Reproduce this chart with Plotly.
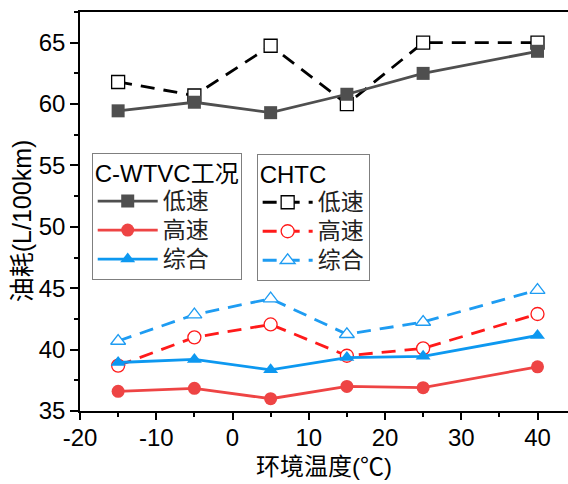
import plotly.graph_objects as go

temps = [-15, -5, 5, 15, 25, 40]

wtvc_low = [59.45, 60.15, 59.3, 60.8, 62.5, 64.3]
wtvc_high = [36.6, 36.85, 36.0, 37.0, 36.9, 38.6]
wtvc_comb = [38.95, 39.2, 38.35, 39.35, 39.45, 41.15]

chtc_low = [61.8, 60.7, 64.75, 60.0, 65.0, 65.0]
chtc_high = [38.7, 41.0, 42.05, 39.5, 40.1, 42.9]
chtc_comb = [40.7, 42.85, 44.15, 41.25, 42.25, 44.85]

names = ["低速", "高速", "综合"]

x_ticks = [-20, -10, 0, 10, 20, 30, 40]
x_ticktext = ["-20", "-10", "0", "10", "20", "30", "40"]
y_ticks = [35, 40, 45, 50, 55, 60, 65]

x_title = "环境温度(℃)"
y_title = "油耗(L/100km)"

GRAY = "#4f4f4f"
RED = "#ee4444"
RED2 = "#ff1a1a"
BLUE = "#0d98f0"
BLUE2 = "#1e9cf2"

FONT = "Liberation Sans, Arial, Noto Sans CJK SC"


def big(s, px=23):
    return f"<span style='font-size:{px}px'>{s}</span>"


fig = go.Figure()

# CHTC (dashed, open markers) drawn first
for y, nm, col, sym in [(chtc_low, names[0], "#000000", "square"),
                        (chtc_high, names[1], RED2, "circle"),
                        (chtc_comb, names[2], BLUE2, "triangle-up")]:
    fig.add_trace(go.Scatter(
        x=temps, y=y, name=big(nm), legend="legend2", mode="lines+markers",
        line=dict(color=col, width=2.8, dash="14px,9px"),
        marker=dict(symbol=sym, size=13, color="white",
                    line=dict(color=col, width=1.3)),
    ))

for y, nm, col, sym in [(wtvc_low, names[0], GRAY, "square"),
                        (wtvc_high, names[1], RED, "circle"),
                        (wtvc_comb, names[2], BLUE, "triangle-up")]:
    fig.add_trace(go.Scatter(
        x=temps, y=y, name=big(nm), legend="legend", mode="lines+markers",
        line=dict(color=col, width=2.8),
        marker=dict(symbol=sym, size=13, color=col,
                    line=dict(color=col, width=0)),
    ))

leg_common = dict(
    bgcolor="white", bordercolor="#7f7f7f", borderwidth=1,
    font=dict(family=FONT, size=20, color="#222222"),
    xref="paper", yref="paper", xanchor="left", yanchor="top",
    tracegroupgap=0, traceorder="normal",
)

fig.update_layout(
    width=568, height=484,
    margin=dict(l=80, r=0, t=12, b=73, autoexpand=False),
    plot_bgcolor="white", paper_bgcolor="white",
    font=dict(family=FONT, size=22, color="black"),
    showlegend=True,
    legend=dict(x=0.024, y=0.646, itemwidth=60,
                title=dict(text=big("C-WTVC工况", 24), font=dict(family=FONT, size=21, color="black")),
                **leg_common),
    legend2=dict(x=0.362, y=0.643, itemwidth=50,
                 title=dict(text=big("CHTC", 24), font=dict(family=FONT, size=21, color="black")),
                 **leg_common),
    xaxis=dict(
        range=[-20, 44], tickmode="array", tickvals=x_ticks, ticktext=x_ticktext,
        showgrid=False, zeroline=False, automargin=False,
        showline=True, linecolor="black", linewidth=1.5, mirror=True,
        ticks="outside", ticklen=7, tickwidth=1.5, tickcolor="black",
        ticklabelstandoff=-3,
        minor=dict(dtick=5, ticks="outside", ticklen=4, tickwidth=1.5, tickcolor="black"),
        tickfont=dict(family=FONT, size=24, color="black"),
    ),
    yaxis=dict(
        range=[35, 67.5], tickmode="array", tickvals=y_ticks,
        showgrid=False, zeroline=False, automargin=False,
        showline=True, linecolor="black", linewidth=1.5,
        ticks="outside", ticklen=8, tickwidth=1.5, tickcolor="black",
        minor=dict(dtick=2.5, tick0=35, ticks="outside", ticklen=4, tickwidth=1.5, tickcolor="black"),
        tickfont=dict(family=FONT, size=24, color="black"),
    ),
    annotations=[
        dict(text=x_title, xref="paper", yref="paper", x=0.5, y=-0.14,
             xanchor="center", yanchor="middle", showarrow=False,
             font=dict(family=FONT, size=24, color="black")),
        dict(text=y_title, xref="paper", yref="paper", x=-0.119, y=0.478,
             xanchor="center", yanchor="middle", showarrow=False, textangle=-90,
             font=dict(family=FONT, size=25, color="black")),
    ],
)

fig.write_html("out.html",
               config={"displayModeBar": False},
               post_script="document.body.style.margin='0';document.body.style.overflow='hidden';")
